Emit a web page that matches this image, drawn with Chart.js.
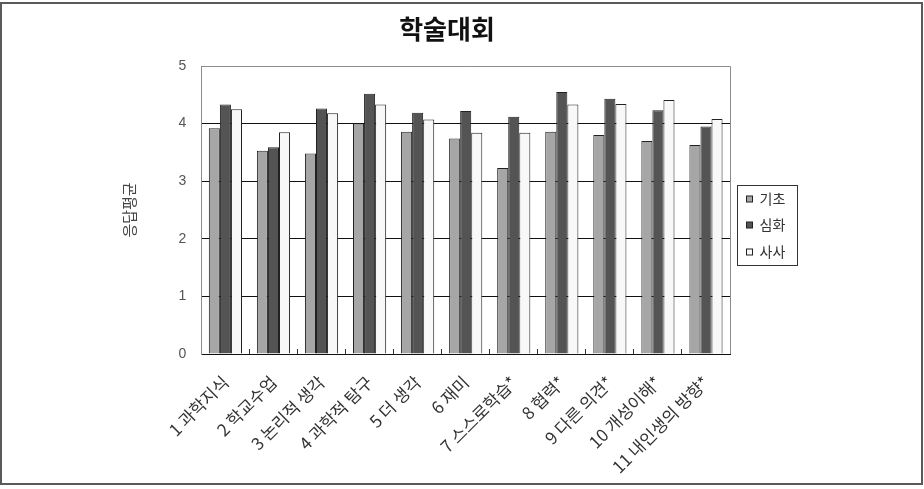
<!DOCTYPE html>
<html>
<head>
<meta charset="utf-8">
<script src="https://cdn.jsdelivr.net/npm/chart.js@4.4.1/dist/chart.umd.min.js"></script>
<style>
    html, body { margin: 0; padding: 0; background: #ffffff; }
    #wrap { width: 924px; height: 489px; position: relative; }
</style>
</head>
<body>
<div id="wrap"><canvas id="surveyChart"></canvas></div>
<script>
const chartTitle = "학술대회";
const yAxisTitle = "응답평균";
const categories = ["1 과학지식", "2 학교수업", "3 논리적 생각", "4 과학적 탐구", "5 더 생각", "6 재미",
    "7 스스로학습*", "8 협력*", "9 다른 의견*", "10 개성이해*", "11 내인생의 방향*"];
const seriesNames = ["기초", "심화", "사사"];
const basicValues = [3.92, 3.53, 3.48, 4.00, 3.86, 3.74, 3.23, 3.86, 3.80, 3.70, 3.63];
const advancedValues = [4.33, 3.59, 4.26, 4.52, 4.19, 4.22, 4.12, 4.55, 4.43, 4.23, 3.95];
const mentorValues = [4.25, 3.85, 4.18, 4.33, 4.07, 3.84, 3.84, 4.33, 4.34, 4.41, 4.08];
const yTicks = [0, 1, 2, 3, 4, 5];

const seriesColors = ["#a6a6a6", "#545454", "#f8f8f8"];
const korFont = '"Noto Sans CJK KR", "Noto Sans", sans-serif';

// frame, title, plot border and the boxed legend (Excel style)
const decorPlugin = {
    id: "decor",
    beforeDraw(chart) {
        const ctx = chart.ctx;
        ctx.save();
        ctx.fillStyle = "#ffffff";
        ctx.fillRect(0, 0, chart.width, chart.height);
        ctx.restore();
    },
    beforeDatasetsDraw(chart) {
        const ctx = chart.ctx;
        const a = chart.chartArea;
        ctx.save();
        ctx.strokeStyle = "#8c8c8c";
        ctx.lineWidth = 1;
        ctx.beginPath();
        ctx.moveTo(a.left, Math.round(a.top) + 0.5);
        ctx.lineTo(Math.round(a.right) + 0.5, Math.round(a.top) + 0.5);
        ctx.lineTo(Math.round(a.right) + 0.5, a.bottom);
        ctx.stroke();
        ctx.restore();
    },
    afterDraw(chart) {
        const ctx = chart.ctx;
        const a = chart.chartArea;
        ctx.save();

        // outer frame
        ctx.strokeStyle = "#5a5a5a";
        ctx.lineWidth = 2;
        ctx.strokeRect(1, 3, chart.width - 3, chart.height - 8);

        // title
        ctx.fillStyle = "#111111";
        ctx.font = "bold 26px " + korFont;
        ctx.textAlign = "center";
        ctx.textBaseline = "middle";
        ctx.fillText(chartTitle, chart.width / 2 - 15, 29);

        // legend
        const lx = Math.round(a.right) + 7.5;
        const ly = 185.5;
        const lw = 60;
        const lh = 80;
        ctx.strokeStyle = "#333333";
        ctx.lineWidth = 1;
        ctx.strokeRect(lx, ly, lw, lh);
        ctx.font = "14px " + korFont;
        ctx.textAlign = "left";
        chart.data.datasets.forEach((ds, i) => {
            const cy = ly + 13 + i * 26.5;
            ctx.fillStyle = ds.backgroundColor;
            ctx.fillRect(lx + 9, Math.round(cy - 3), 6, 6);
            ctx.strokeStyle = "#222222";
            ctx.strokeRect(lx + 9, Math.round(cy - 3), 6, 6);
            ctx.fillStyle = "#333333";
            ctx.fillText(ds.label, lx + 22, cy);
        });
        ctx.restore();
    }
};

const ctx = document.getElementById("surveyChart");

new Chart(ctx, {
    type: "bar",
    data: {
        labels: categories,
        datasets: [
            {
                label: seriesNames[0],
                data: basicValues,
                backgroundColor: seriesColors[0],
                borderColor: "#222222",
                borderWidth: 1
            },
            {
                label: seriesNames[1],
                data: advancedValues,
                backgroundColor: seriesColors[1],
                borderColor: "#222222",
                borderWidth: 1
            },
            {
                label: seriesNames[2],
                data: mentorValues,
                backgroundColor: seriesColors[2],
                borderColor: "#222222",
                borderWidth: 1
            }
        ]
    },
    options: {
        responsive: true,
        maintainAspectRatio: false,
        animation: false,
        datasets: {
            bar: {
                categoryPercentage: 0.69,
                barPercentage: 1.0
            }
        },
        layout: {
            padding: { left: 20, right: 194, top: 66, bottom: 0 }
        },
        plugins: {
            legend: { display: false },
            title: { display: false },
            tooltip: { enabled: false }
        },
        scales: {
            x: {
                afterFit: (scale) => {
                    scale.height = 135;
                },
                grid: {
                    display: true,
                    drawOnChartArea: false,
                    drawTicks: true,
                    tickLength: -5,
                    color: "#333333",
                    offset: true
                },
                border: { color: "#111111", width: 1 },
                ticks: {
                    color: "#333333",
                    font: { family: korFont, size: 17 },
                    minRotation: 45,
                    maxRotation: 45,
                    autoSkip: false,
                    padding: 23
                }
            },
            y: {
                min: 0,
                max: 5,
                afterBuildTicks: (scale) => {
                    scale.ticks = yTicks.map((v) => ({ value: v }));
                },
                grid: {
                    drawTicks: false,
                    color: (c) => (c.tick && (c.tick.value === 0 || c.tick.value === 5)) ? "rgba(0,0,0,0)" : "#111111"
                },
                border: { color: "#8c8c8c", width: 1 },
                ticks: {
                    color: "#555555",
                    font: { family: '"Liberation Sans", sans-serif', size: 14 },
                    padding: 15
                },
                title: {
                    display: true,
                    text: yAxisTitle,
                    color: "#444444",
                    font: { family: korFont, size: 15 },
                    padding: { top: 100, bottom: 25.6 }
                }
            }
        }
    },
    plugins: [decorPlugin]
});
</script>
</body>
</html>
